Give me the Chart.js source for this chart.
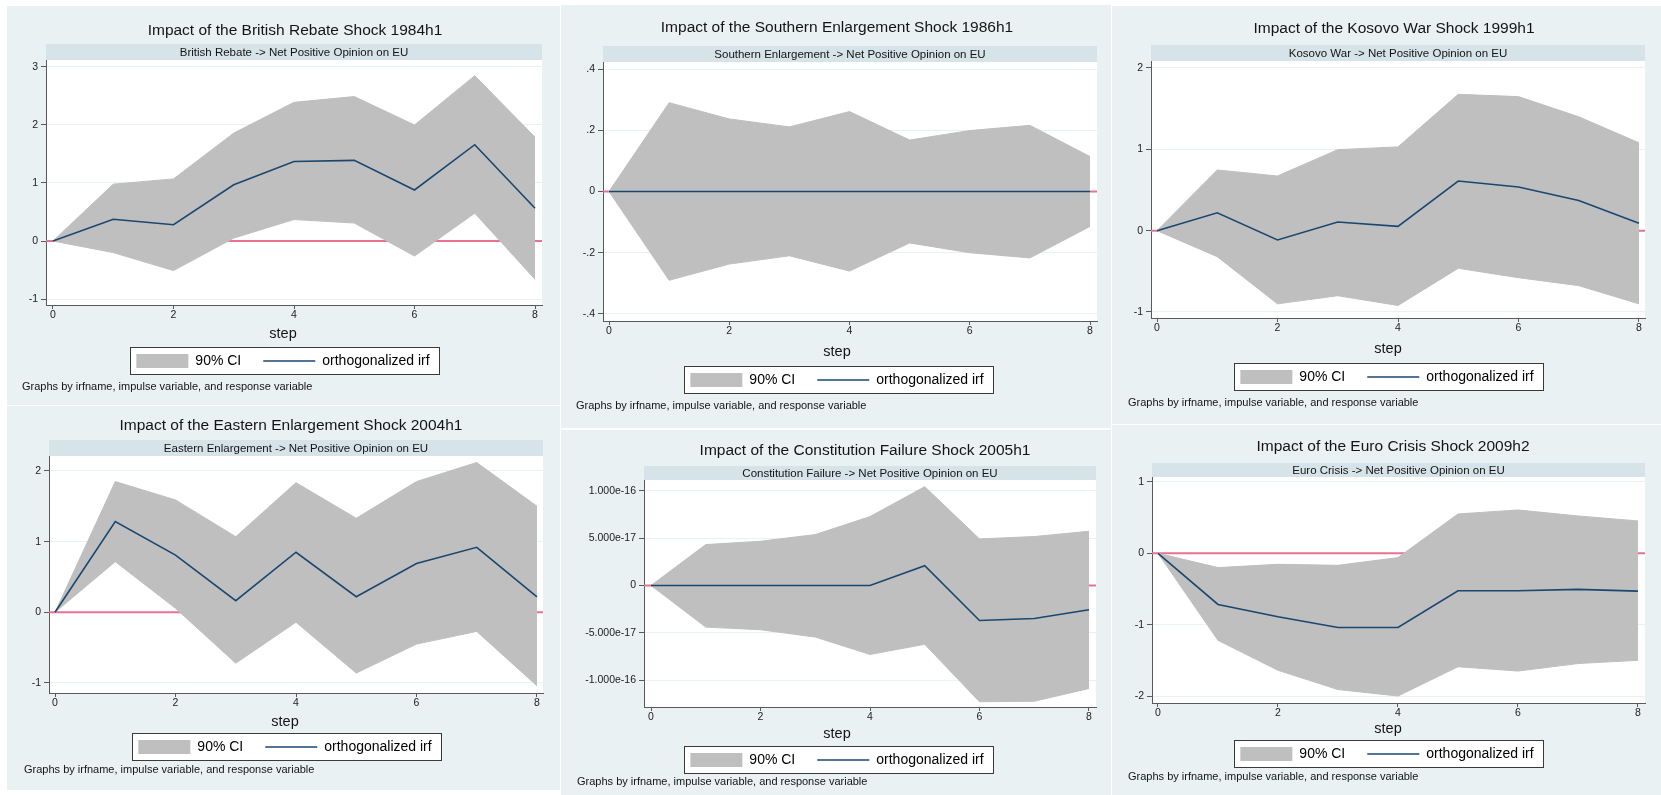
<!DOCTYPE html>
<html>
<head>
<meta charset="utf-8">
<script src="https://cdn.jsdelivr.net/npm/chart.js@4.4.1/dist/chart.umd.min.js"></script>
<style>
html,body{margin:0;padding:0;background:#ffffff;}
body{width:1661px;height:795px;position:relative;overflow:hidden;}
.panel{position:absolute;background:#e9f1f3;}
.panel canvas{position:absolute;left:0;top:0;}
</style>
</head>
<body>
<script>
// ---------------- DATA ----------------
const steps = [0, 1, 2, 3, 4, 5, 6, 7, 8];
const xTicks = [0, 2, 4, 6, 8];
const xTickLabels = ['0', '2', '4', '6', '8'];
const xTitle = 'step';
const legendLabels = ['90% CI', 'orthogonalized irf'];
const noteText = 'Graphs by irfname, impulse variable, and response variable';

const titles = [
  'Impact of the British Rebate Shock 1984h1',
  'Impact of the Southern Enlargement Shock 1986h1',
  'Impact of the Kosovo War Shock 1999h1',
  'Impact of the Eastern Enlargement Shock 2004h1',
  'Impact of the Constitution Failure Shock 2005h1',
  'Impact of the Euro Crisis Shock 2009h2'
];
const stripTexts = [
  'British Rebate -> Net Positive Opinion on EU',
  'Southern Enlargement -> Net Positive Opinion on EU',
  'Kosovo War -> Net Positive Opinion on EU',
  'Eastern Enlargement -> Net Positive Opinion on EU',
  'Constitution Failure -> Net Positive Opinion on EU',
  'Euro Crisis -> Net Positive Opinion on EU'
];

// British Rebate
const britishIrf   = [0, 0.375, 0.28, 0.97, 1.37, 1.39, 0.88, 1.66, 0.565];
const britishUpper = [0, 0.98, 1.07, 1.86, 2.39, 2.49, 2.00, 2.85, 1.79];
const britishLower = [0, -0.20, -0.51, 0.05, 0.37, 0.31, -0.26, 0.48, -0.66];
const britishYTicks = [-1, 0, 1, 2, 3];
const britishYLabels = ['-1', '0', '1', '2', '3'];

// Southern Enlargement
const southernIrf   = [0, 0, 0, 0, 0, 0, 0, 0, 0];
const southernUpper = [0, 0.290, 0.237, 0.211, 0.261, 0.168, 0.199, 0.216, 0.114];
const southernLower = [0, -0.290, -0.237, -0.210, -0.260, -0.168, -0.200, -0.217, -0.114];
const southernYTicks = [-0.4, -0.2, 0, 0.2, 0.4];
const southernYLabels = ['-.4', '-.2', '0', '.2', '.4'];

// Kosovo War
const kosovoIrf   = [0, 0.22, -0.115, 0.107, 0.053, 0.61, 0.537, 0.37, 0.09];
const kosovoUpper = [0, 0.746, 0.672, 0.996, 1.03, 1.676, 1.648, 1.40, 1.08];
const kosovoLower = [0, -0.32, -0.90, -0.80, -0.92, -0.463, -0.578, -0.676, -0.90];
const kosovoYTicks = [-1, 0, 1, 2];
const kosovoYLabels = ['-1', '0', '1', '2'];

// Eastern Enlargement
const easternIrf   = [0, 1.283, 0.81, 0.165, 0.85, 0.22, 0.69, 0.92, 0.22];
const easternUpper = [0, 1.85, 1.59, 1.07, 1.835, 1.33, 1.85, 2.12, 1.50];
const easternLower = [0, 0.717, 0.057, -0.72, -0.14, -0.86, -0.45, -0.27, -1.04];
const easternYTicks = [-1, 0, 1, 2];
const easternYLabels = ['-1', '0', '1', '2'];

// Constitution Failure
const constitutionIrf   = [0, 0, 0, 0, 0, 2.1e-17, -3.7e-17, -3.5e-17, -2.57e-17];
const constitutionUpper = [0, 4.33e-17, 4.68e-17, 5.39e-17, 7.29e-17, 10.46e-17, 4.93e-17, 5.18e-17, 5.74e-17];
const constitutionLower = [0, -4.4e-17, -4.68e-17, -5.46e-17, -7.29e-17, -6.23e-17, -12.3e-17, -12.25e-17, -10.9e-17];
const constitutionYTicks = [-1e-16, -5e-17, 0, 5e-17, 1e-16];
const constitutionYLabels = ['-1.000e-16', '-5.000e-17', '0', '5.000e-17', '1.000e-16'];

// Euro Crisis
const euroIrf   = [0, -0.716, -0.89, -1.04, -1.04, -0.524, -0.524, -0.505, -0.53];
const euroUpper = [0, -0.20, -0.154, -0.168, -0.06, 0.552, 0.608, 0.524, 0.454];
const euroLower = [0, -1.22, -1.64, -1.91, -2.00, -1.59, -1.65, -1.545, -1.50];
const euroYTicks = [-2, -1, 0, 1];
const euroYLabels = ['-2', '-1', '0', '1'];

// ---------------- STYLE / LAYOUT ----------------
const FONT = '"Liberation Sans", Arial, Helvetica, sans-serif';
const CI_COLOR = '#bfbfbf';
const IRF_COLOR = '#1a476f';
const ZERO_COLOR = '#e8728f';
const STRIP_COLOR = '#d6e3e8';
const AXIS_COLOR = '#5a5a5a';
const GRID_COLOR = '#eaf1f3';
const TEXT_COLOR = '#141414';

const panels = [
  { title: titles[0], strip: stripTexts[0], irf: britishIrf, upper: britishUpper, lower: britishLower,
    yTicks: britishYTicks, yLabels: britishYLabels, xRange: [-0.116, 8.116], yRange: [-1.103, 3.12],
    box: [7, 6, 560, 405], plot: [46, 60, 542, 305], stripTop: 44, titleX: 295, titleY: 31,
    legendCX: 283, legendCY: 361, stepX: 283, stepY: 334, noteX: 22, noteY: 387 },
  { title: titles[1], strip: stripTexts[1], irf: southernIrf, upper: southernUpper, lower: southernLower,
    yTicks: southernYTicks, yLabels: southernYLabels, xRange: [-0.1, 8.116], yRange: [-0.423, 0.423],
    box: [561, 5, 1111, 428], plot: [603, 62, 1097, 321], stripTop: 46, titleX: 837, titleY: 28,
    legendCX: 837, legendCY: 380, stepX: 837, stepY: 352, noteX: 576, noteY: 406 },
  { title: titles[2], strip: stripTexts[2], irf: kosovoIrf, upper: kosovoUpper, lower: kosovoLower,
    yTicks: kosovoYTicks, yLabels: kosovoYLabels, xRange: [-0.1, 8.1], yRange: [-1.074, 2.086],
    box: [1112, 6, 1661, 424], plot: [1151, 61, 1645, 318], stripTop: 45, titleX: 1394, titleY: 29,
    legendCX: 1387, legendCY: 377, stepX: 1388, stepY: 349, noteX: 1128, noteY: 403 },
  { title: titles[3], strip: stripTexts[3], irf: easternIrf, upper: easternUpper, lower: easternLower,
    yTicks: easternYTicks, yLabels: easternYLabels, xRange: [-0.1, 8.1], yRange: [-1.142, 2.212],
    box: [7, 406, 560, 790], plot: [49, 456, 543, 693], stripTop: 440, titleX: 291, titleY: 426,
    legendCX: 285, legendCY: 747, stepX: 285, stepY: 722, noteX: 24, noteY: 770 },
  { title: titles[4], strip: stripTexts[4], irf: constitutionIrf, upper: constitutionUpper, lower: constitutionLower,
    yTicks: constitutionYTicks, yLabels: constitutionYLabels, xRange: [-0.128, 8.128], yRange: [-1.2857e-16, 1.1164e-16],
    box: [561, 430, 1111, 795], plot: [644, 480, 1096, 707], stripTop: 466, titleX: 865, titleY: 451,
    legendCX: 837, legendCY: 760, stepX: 837, stepY: 734, noteX: 577, noteY: 782 },
  { title: titles[5], strip: stripTexts[5], irf: euroIrf, upper: euroUpper, lower: euroLower,
    yTicks: euroYTicks, yLabels: euroYLabels, xRange: [-0.1, 8.117], yRange: [-2.098, 1.07],
    box: [1112, 425, 1661, 795], plot: [1152, 477, 1645, 703], stripTop: 463, titleX: 1393, titleY: 447,
    legendCX: 1387, legendCY: 754, stepX: 1388, stepY: 729, noteX: 1128, noteY: 777 }
];

const stataPlugin = {
  id: 'stata',
  beforeDraw(chart, args, o) {
    const { ctx, chartArea: a } = chart;
    ctx.save();
    ctx.fillStyle = '#ffffff';
    ctx.fillRect(a.left, a.top, a.right - a.left, a.bottom - a.top);
    ctx.fillStyle = STRIP_COLOR;
    ctx.fillRect(a.left, o.stripTop, a.right - a.left, a.top - o.stripTop);
    ctx.fillStyle = TEXT_COLOR;
    ctx.textAlign = 'center';
    ctx.textBaseline = 'middle';
    ctx.font = '11.5px ' + FONT;
    ctx.fillText(o.strip, (a.left + a.right) / 2, (o.stripTop + a.top) / 2 + 0.5);
    ctx.font = '15.5px ' + FONT;
    ctx.fillText(o.title, o.titleX, o.titleY);
    ctx.font = '14.5px ' + FONT;
    ctx.fillText(o.xTitle, o.stepX, o.stepY);
    ctx.textAlign = 'left';
    ctx.font = '11px ' + FONT;
    ctx.fillText(o.note, o.noteX, o.noteY);
    const hb = chart.legend && chart.legend.legendHitBoxes;
    if (hb && hb.length) {
      const last = hb[hb.length - 1];
      const x0 = Math.round(hb[0].left - 6), x1 = Math.round(last.left + last.width + 9);
      const y0 = Math.round(hb[0].top - 7), y1 = Math.round(hb[0].top + 14 + 6);
      ctx.fillStyle = '#ffffff';
      ctx.fillRect(x0, y0, x1 - x0, y1 - y0);
      ctx.strokeStyle = '#3a3a3a';
      ctx.lineWidth = 1;
      ctx.strokeRect(x0 + 0.5, y0 + 0.5, x1 - x0, y1 - y0);
    }
    ctx.restore();
  },
  beforeDatasetsDraw(chart) {
    const { ctx, chartArea: a, scales } = chart;
    const py = scales.y.getPixelForValue(0);
    ctx.save();
    ctx.strokeStyle = ZERO_COLOR;
    ctx.lineWidth = 2;
    ctx.beginPath();
    ctx.moveTo(a.left, py);
    ctx.lineTo(a.right, py);
    ctx.stroke();
    ctx.restore();
  }
};

panels.forEach((p) => {
  const [bx0, by0, bx1, by1] = p.box;
  const W = bx1 - bx0, H = by1 - by0;
  const div = document.createElement('div');
  div.className = 'panel';
  div.style.left = bx0 + 'px';
  div.style.top = by0 + 'px';
  div.style.width = W + 'px';
  div.style.height = H + 'px';
  const canvas = document.createElement('canvas');
  canvas.width = W;
  canvas.height = H;
  canvas.style.width = W + 'px';
  canvas.style.height = H + 'px';
  div.appendChild(canvas);
  document.body.appendChild(div);

  const padR = W - (p.plot[2] - bx0);
  const padL = 2 * (p.legendCX - bx0) - W + padR;
  const yW = (p.plot[0] - bx0) - padL;
  const padT = p.plot[1] - by0;
  const legendTop = p.legendCY - 29;
  const Hx = legendTop - p.plot[3];
  const padB = H - (p.plot[3] - by0) - Hx - 46;

  const pts = (arr) => steps.map((s, i) => ({ x: s, y: arr[i] }));

  new Chart(canvas, {
    type: 'line',
    data: {
      datasets: [
        { label: legendLabels[1], data: pts(p.irf), borderColor: IRF_COLOR, borderWidth: 1.6,
          pointRadius: 0, fill: false, tension: 0, order: 0 },
        { label: 'upper', data: pts(p.upper), borderColor: CI_COLOR, backgroundColor: CI_COLOR,
          borderWidth: 1, pointRadius: 0, fill: '+1', tension: 0, order: 1 },
        { label: 'lower', data: pts(p.lower), borderColor: CI_COLOR, backgroundColor: CI_COLOR,
          borderWidth: 1, pointRadius: 0, fill: false, tension: 0, order: 2 }
      ]
    },
    options: {
      responsive: false,
      animation: false,
      devicePixelRatio: 1,
      events: [],
      layout: { padding: { left: padL, right: padR, top: padT, bottom: padB } },
      scales: {
        x: {
          type: 'linear', min: p.xRange[0], max: p.xRange[1],
          afterBuildTicks: (s) => { s.ticks = xTicks.map(v => ({ value: v })); },
          afterFit: (s) => { s.height = Hx; },
          ticks: { autoSkip: false, maxRotation: 0, padding: 0, color: '#222',
            font: { size: 10.5, family: FONT }, callback: (v, i) => xTickLabels[i] },
          grid: { display: true, drawOnChartArea: false, drawTicks: true, tickLength: 4,
            tickColor: AXIS_COLOR, tickWidth: 1 },
          border: { display: true, color: AXIS_COLOR, width: 1 },
          title: { display: false }
        },
        y: {
          type: 'linear', min: p.yRange[0], max: p.yRange[1],
          afterBuildTicks: (s) => { s.ticks = p.yTicks.map(v => ({ value: v })); },
          afterFit: (s) => { s.width = yW; },
          ticks: { autoSkip: false, padding: 3, color: '#222',
            font: { size: 10.5, family: FONT }, callback: (v, i) => p.yLabels[i] },
          grid: { display: true, drawOnChartArea: true, color: GRID_COLOR, lineWidth: 1,
            drawTicks: true, tickLength: 5, tickColor: AXIS_COLOR, tickWidth: 1 },
          border: { display: true, color: AXIS_COLOR, width: 1 }
        }
      },
      plugins: {
        title: { display: false },
        tooltip: { enabled: false },
        legend: {
          display: true, position: 'bottom', align: 'center',
          labels: {
            usePointStyle: true, pointStyleWidth: 52, boxHeight: 14, padding: 22,
            color: TEXT_COLOR, font: { size: 14, family: FONT },
            generateLabels: () => [
              { text: legendLabels[0], fillStyle: CI_COLOR, strokeStyle: CI_COLOR, lineWidth: 0,
                pointStyle: 'rect', hidden: false, datasetIndex: 1 },
              { text: legendLabels[1], fillStyle: IRF_COLOR, strokeStyle: IRF_COLOR, lineWidth: 1.6,
                pointStyle: 'line', hidden: false, datasetIndex: 0 }
            ]
          }
        },
        stata: {
          title: p.title, strip: p.strip, note: noteText, xTitle: xTitle,
          stripTop: p.stripTop - by0,
          titleX: p.titleX - bx0, titleY: p.titleY - by0,
          stepX: p.stepX - bx0, stepY: p.stepY - by0,
          noteX: p.noteX - bx0, noteY: p.noteY - by0
        }
      }
    },
    plugins: [stataPlugin]
  });
});
</script>
</body>
</html>
